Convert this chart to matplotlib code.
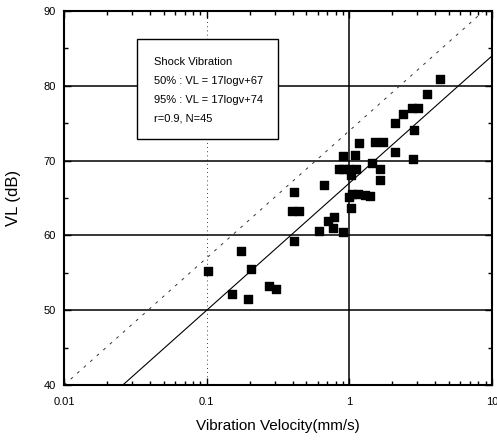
import numpy as np
import matplotlib
matplotlib.use("Agg")
import matplotlib.pyplot as plt
from matplotlib.patches import Rectangle
from matplotlib.ticker import LogLocator, MultipleLocator, FixedLocator, FixedFormatter, NullFormatter

plt.rcParams['font.family'] = ['Liberation Sans', 'DejaVu Sans']

# data
velocity = [0.102, 0.151, 0.174, 0.194, 0.204, 0.275, 0.306, 0.394, 0.409, 0.411,
            0.444, 0.61, 0.667, 0.711, 0.770, 0.783, 0.84, 0.906, 0.906, 0.906,
            1.0, 1.02, 1.02, 1.05, 1.09, 1.12, 1.15, 1.16, 1.29, 1.39,
            1.45, 1.51, 1.64, 1.64, 1.71, 2.09, 2.09, 2.39, 2.73, 2.81,
            2.84, 3.04, 3.48, 4.31, 1.0]
vl = [55.2, 52.1, 57.9, 51.5, 55.5, 53.3, 52.9, 63.3, 65.8, 59.2,
      63.3, 60.6, 66.8, 61.9, 61.0, 62.5, 68.9, 70.6, 60.5, 68.9,
      68.9, 68.1, 63.7, 65.5, 70.7, 68.9, 65.5, 72.3, 65.4, 65.3,
      69.7, 72.5, 68.9, 67.4, 72.5, 71.1, 75.0, 76.2, 77.0, 70.2,
      74.1, 77.0, 78.9, 80.9, 65.2]

slope = 17
icpt_50 = 67
icpt_95 = 74

x_ticks = [0.01, 0.1, 1, 10]
x_tick_labels = ["0.01", "0.1", "1", "10"]
y_ticks = [40, 50, 60, 70, 80, 90]

fig = plt.figure(figsize=(4.97, 4.41), dpi=100)
ax = fig.add_axes([0.129, 0.127, 0.861, 0.848])

ax.set_xscale('log')
ax.set_xlim(0.01, 10)
ax.set_ylim(40, 90)

# grid lines
for y in [50, 60, 70, 80]:
    ax.axhline(y, color='black', lw=1.1, zorder=1)
ax.axvline(1, color='black', lw=1.1, zorder=1)
ax.axvline(0.1, color='black', lw=0.6, ls=(0, (1, 4)), zorder=1)

# regression lines
xx = np.logspace(-2, 1, 200)
ax.plot(xx, slope * np.log10(xx) + icpt_50, color='black', lw=0.8, zorder=2)
ax.plot(xx, slope * np.log10(xx) + icpt_95, color='#333333', lw=0.7,
        ls=(0, (3, 6)), zorder=2)

ax.scatter(velocity, vl, marker='s', s=36, color='black', zorder=3)

# legend-like box
ax.add_patch(Rectangle((0.171, 0.658), 0.329, 0.267, transform=ax.transAxes,
                       facecolor='white', edgecolor='black', lw=1.0, zorder=4))
lines = ["Shock Vibration",
         "50% : VL = 17logv+67",
         "95% : VL = 17logv+74",
         "r=0.9, N=45"]
for i, t in enumerate(lines):
    ax.text(0.21, 0.863 - i * 0.05, t, transform=ax.transAxes, fontsize=8,
            va='center', ha='left', zorder=5)

ax.xaxis.set_major_locator(FixedLocator(x_ticks))
ax.xaxis.set_major_formatter(FixedFormatter(x_tick_labels))
ax.xaxis.set_minor_locator(LogLocator(base=10, subs=np.arange(2, 10)))
ax.xaxis.set_minor_formatter(NullFormatter())
ax.yaxis.set_major_locator(FixedLocator(y_ticks))
ax.yaxis.set_minor_locator(MultipleLocator(5))

ax.tick_params(which='both', direction='in', top=True, right=True, labelsize=8,
               width=1.0, pad=6)
ax.tick_params(axis='x', which='major', pad=9)
ax.tick_params(which='major', length=5)
ax.tick_params(which='minor', length=3)

for s in ax.spines.values():
    s.set_linewidth(1.5)

ax.set_xlabel("Vibration Velocity(mm/s)", fontsize=11, labelpad=8)
ax.set_ylabel("VL (dB)", fontsize=12, labelpad=16)

fig.savefig("out.png", dpi=100)
